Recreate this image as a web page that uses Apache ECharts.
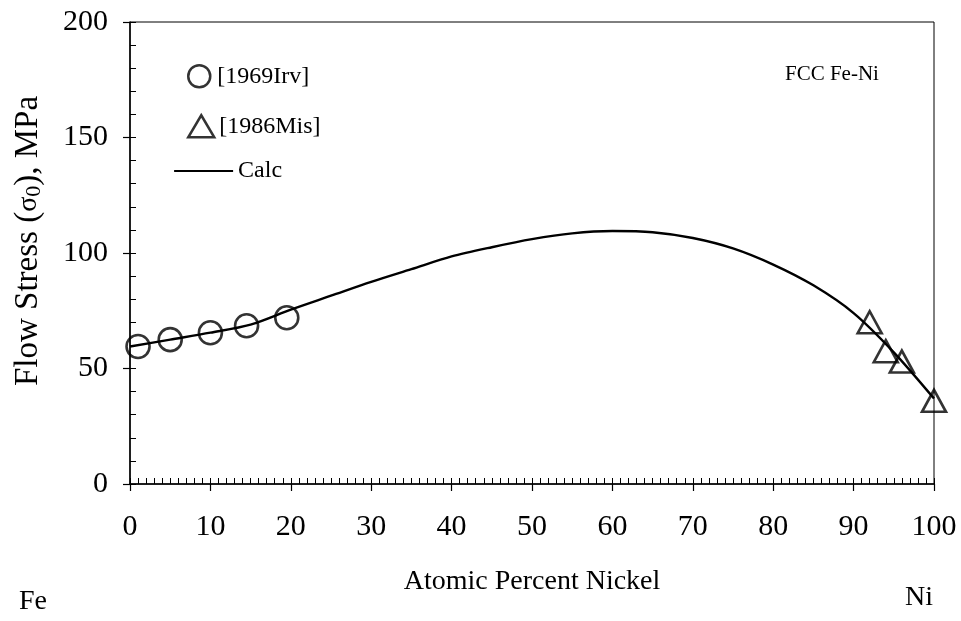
<!DOCTYPE html>
<html>
<head>
<meta charset="utf-8">
<script src="https://cdn.jsdelivr.net/npm/echarts@6/dist/echarts.min.js"></script>
<style>
  html, body { margin: 0; padding: 0; background: #fff; }
  #chart { width: 961px; height: 621px; }
</style>
</head>
<body>
<div id="chart"></div>
<script>
const irvX = [1, 5, 10, 14.5, 19.5];
const irvY = [59.5, 62.5, 65.5, 68.5, 72];
const misX = [92, 94, 96, 100];
const misY = [70, 57.5, 53, 36];
// calculated curve
const calcX = [0, 5, 10, 15, 20, 25, 30, 35, 40, 45, 50, 55, 60, 65, 70, 75, 80, 85, 90, 95, 100];
const calcY = [59.5, 62.5, 65.5, 69, 75.5, 81.5, 87.5, 93, 98.5, 102.5, 106, 108.5, 109.5, 109, 106.5, 102, 95, 86, 74, 57, 37];

const xTicks = [0, 10, 20, 30, 40, 50, 60, 70, 80, 90, 100];
const yTicks = [0, 50, 100, 150, 200];

const serif = "Liberation Serif";
const black = "#000";

const zip = (xs, ys) => xs.map((x, i) => [x, ys[i]]);

const chart = echarts.init(document.getElementById("chart"));

const legendText = { fontFamily: serif, fontSize: 24, color: black };

chart.setOption({
  backgroundColor: "#fff",
  animation: false,
  grid: {
    left: 130, right: 27, top: 22, bottom: 137,
    show: true, borderColor: black, borderWidth: 1, backgroundColor: "transparent",
  },
  legend: [
    {
      data: ["[1969Irv]"], left: 187, top: 64, padding: 0,
      itemWidth: 26, itemHeight: 22, itemGap: 0, textStyle: legendText,
      itemStyle: { color: "transparent", borderColor: black, borderWidth: 2.5 },
    },
    {
      data: ["[1986Mis]"], left: 187, top: 114, padding: 0,
      itemWidth: 26, itemHeight: 22, itemGap: 0, textStyle: legendText,
      itemStyle: { color: "transparent", borderColor: black, borderWidth: 2.5 },
    },
    {
      data: ["Calc"], left: 173, top: 159, padding: 0,
      itemWidth: 59, itemHeight: 22, itemGap: 0, textStyle: legendText,
      lineStyle: { color: black, width: 2.2 },
      itemStyle: { color: "transparent", borderWidth: 0, opacity: 0 },
    },
  ],
  xAxis: [
    {
      type: "value", position: "bottom", min: 0, max: 100, interval: 10,
      name: "Atomic Percent Nickel", nameLocation: "middle", nameGap: 84,
      nameTextStyle: { fontFamily: serif, fontSize: 28, color: black },
      axisLine: { lineStyle: { color: black, width: 1.5 } },
      axisTick: { inside: false, length: 7, lineStyle: { color: black, width: 1.2 } },
      axisLabel: {
        fontFamily: serif, fontSize: 30, color: black, margin: 28,
        formatter: (v) => (xTicks.includes(v) ? String(v) : ""),
      },
      splitLine: { show: false },
    },
    {
      type: "value", position: "bottom", min: 0, max: 100, interval: 1,
      axisLine: { show: false },
      axisTick: { inside: true, length: 6, lineStyle: { color: black, width: 1 } },
      axisLabel: { show: false },
      splitLine: { show: false },
    },
  ],
  yAxis: [
    {
      type: "value", position: "left", min: 0, max: 200, interval: 50,
      name: "Flow Stress ({s|σ}{sub|0}), MPa", nameLocation: "middle", nameGap: 85,
      nameTextStyle: {
        fontFamily: serif, fontSize: 33, color: black, padding: [0, 0, 0, 24],
        rich: {
          s: { fontFamily: serif, fontSize: 28, color: black },
          sub: { fontFamily: serif, fontSize: 22, color: black, verticalAlign: "bottom", padding: [8, 0, 0, 0] },
        },
      },
      axisLine: { lineStyle: { color: black, width: 1.5 } },
      axisTick: { inside: false, length: 7, lineStyle: { color: black, width: 1.2 } },
      axisLabel: {
        fontFamily: serif, fontSize: 30, color: black, margin: 22,
        formatter: (v) => (yTicks.includes(v) ? String(v) : ""),
      },
      splitLine: { show: false },
    },
    {
      type: "value", position: "left", min: 0, max: 200, interval: 10,
      axisLine: { show: false },
      axisTick: { inside: true, length: 6, lineStyle: { color: black, width: 1 } },
      axisLabel: { show: false },
      splitLine: { show: false },
    },
  ],
  series: [
    {
      name: "Calc", type: "line", xAxisIndex: 0, yAxisIndex: 0,
      data: zip(calcX, calcY), symbol: "none", smooth: 0.3,
      lineStyle: { color: black, width: 2.4 },
      z: 2,
    },
    {
      name: "[1969Irv]", type: "scatter", xAxisIndex: 0, yAxisIndex: 0,
      data: zip(irvX, irvY), symbol: "circle", symbolSize: 23,
      itemStyle: { color: "transparent", borderColor: black, borderWidth: 2.6 },
      z: 3,
    },
    {
      name: "[1986Mis]", type: "scatter", xAxisIndex: 0, yAxisIndex: 0,
      data: zip(misX, misY), symbol: "triangle", symbolSize: [24, 22],
      itemStyle: { color: "transparent", borderColor: black, borderWidth: 2.6 },
      clip: false,
      z: 3,
    },
  ],
  graphic: [
    {
      type: "text", left: 785, top: 64,
      style: { text: "FCC Fe-Ni", fontFamily: serif, fontSize: 21, fill: black },
    },
    {
      type: "text", left: 19, top: 588,
      style: { text: "Fe", fontFamily: serif, fontSize: 28, fill: black },
    },
    {
      type: "text", left: 905, top: 584,
      style: { text: "Ni", fontFamily: serif, fontSize: 28, fill: black },
    },
  ],
});
</script>
</body>
</html>
